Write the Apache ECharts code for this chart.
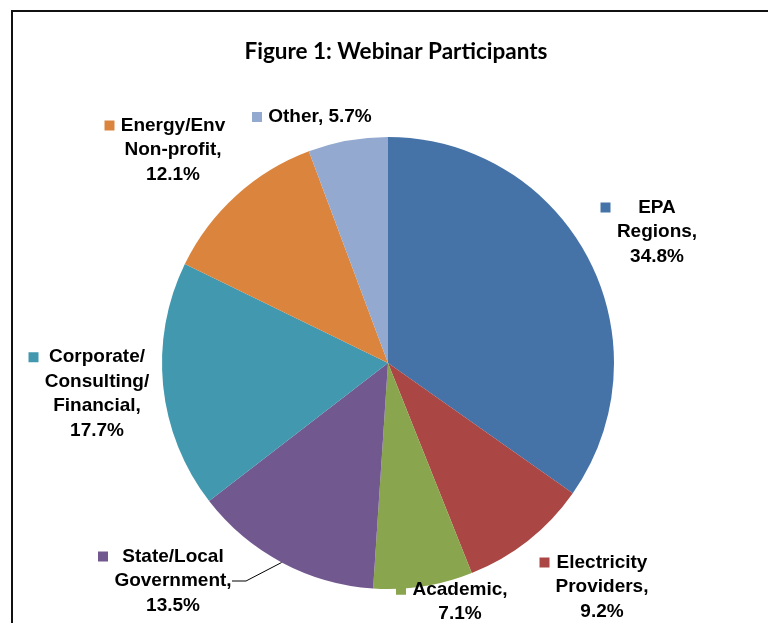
<!DOCTYPE html>
<html>
<head>
<meta charset="utf-8">
<script src="https://cdn.jsdelivr.net/npm/echarts@6/dist/echarts.min.js"></script>
<style>
  html, body { margin: 0; padding: 0; background: #fff; }
  #chart { width: 768px; height: 623px; }
</style>
</head>
<body>
<div id="chart"></div>
<script>
// categories (line breaks as they appear in the labels)
var categories = [
  'EPA\nRegions',
  'Electricity\nProviders',
  'Academic',
  'State/Local\nGovernment',
  'Corporate/\nConsulting/\nFinancial',
  'Energy/Env\nNon-profit',
  'Other'
];
// share of participants, %
var shares = [34.8, 9.2, 7.1, 13.5, 17.7, 12.1, 5.7];
var colors = ['#4572A7', '#AA4643', '#89A54E', '#71588F', '#4198AF', '#DB843D', '#93A9CF'];
// value on the same line as the name
var inlineValue = ['Other'];
// label text centres (x, y) as placed in the original
var labelSpots = [
  [657, 232], [602, 587], [460, 602], [173, 581], [97, 394], [173, 150], [320, 117]
];

var labelFont = 'bold 19px "Liberation Sans", Arial, sans-serif';
var keySize = 10, keyGap = 6;

var measureCtx = document.createElement('canvas').getContext('2d');
measureCtx.font = labelFont;

function textLines(i) {
  var name = categories[i];
  if (inlineValue.indexOf(name) >= 0) {
    return [name + ', ' + shares[i] + '%'];
  }
  return (name + ',').split('\n').concat([shares[i] + '%']);
}

function buildLabel(i) {
  var lines = textLines(i);
  var w = 0;
  lines.forEach(function (l) {
    w = Math.max(w, Math.ceil(measureCtx.measureText(l).width));
  });
  var str = lines.map(function (l, k) {
    return (k === 0 ? '{key|}' : '{pad|}') + '{gap|}{t|' + l + '}';
  }).join('\n');
  return {
    formatter: str,
    rich: {
      key: { width: keySize, height: keySize, backgroundColor: colors[i] },
      pad: { width: keySize, height: keySize },
      gap: { width: keyGap },
      t: { width: w, align: 'center', fontSize: 19, fontWeight: 'bold',
           fontFamily: '"Liberation Sans", Arial, sans-serif', color: '#000', lineHeight: 24.5 }
    }
  };
}

var pieData = [];
for (var i = 0; i < categories.length; i++) {
  var item = {
    name: categories[i],
    value: shares[i],
    itemStyle: { color: colors[i] },
    label: buildLabel(i),
    labelLine: { show: categories[i].indexOf('State') === 0 }
  };
  pieData.push(item);
}

var chart = echarts.init(document.getElementById('chart'), null, { renderer: 'canvas' });

var option = {
  backgroundColor: '#fff',
  animation: false,
  title: {
    text: 'Figure 1: Webinar Participants',
    left: 391,
    top: 35,
    textAlign: 'center',
    textStyle: {
      fontFamily: 'Lato, "Open Sans", sans-serif',
      fontWeight: 'bold',
      fontSize: 22.5,
      color: '#000'
    }
  },
  graphic: [
    {
      type: 'rect',
      shape: { x: 12, y: 11, width: 820, height: 700 },
      style: { fill: 'none', stroke: '#111', lineWidth: 2 },
      silent: true
    }
  ],
  series: [
    {
      type: 'pie',
      center: [388, 363],
      radius: 226,
      startAngle: 90,
      clockwise: true,
      data: pieData,
      itemStyle: { borderWidth: 0 },
      label: {
        show: true,
        position: 'outside',
        lineHeight: 24.5
      },
      labelLine: {
        length: 8,
        length2: 14,
        lineStyle: { color: '#000', width: 1 }
      },
      labelLayout: function (params) {
        var p = labelSpots[params.dataIndex];
        return {
          x: p[0] - (keySize + keyGap) / 2,
          y: p[1],
          align: 'center',
          verticalAlign: 'middle',
          hideOverlap: false
        };
      },
      emphasis: { disabled: true }
    }
  ]
};

chart.setOption(option);
</script>
</body>
</html>
